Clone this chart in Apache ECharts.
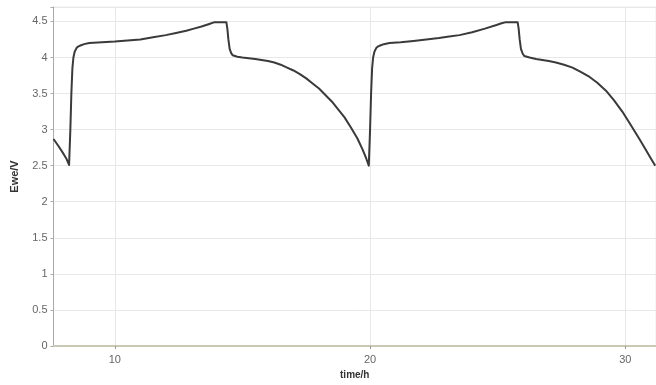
<!DOCTYPE html>
<html>
<head>
<meta charset="utf-8">
<script src="https://cdn.jsdelivr.net/npm/echarts@6/dist/echarts.min.js"></script>
<style>
html,body{margin:0;padding:0;background:#fff;}
#c{width:656px;height:385px;}
</style>
</head>
<body>
<div id="c"></div>
<script>
var timeH = [7.6, 7.8, 8.0, 8.1, 8.21,
  8.26, 8.3, 8.34, 8.38, 8.43, 8.5, 8.58, 8.68, 8.8, 9.0,
  9.5, 10.0, 10.5, 11.0, 11.5, 12.0, 12.4, 12.8, 13.1, 13.4, 13.7, 13.91, 14.37,
  14.41, 14.45, 14.5, 14.56, 14.62, 14.8, 15.0, 15.5, 16.0, 16.25, 16.5, 16.75, 17.0, 17.25, 17.5, 17.75, 18.0, 18.25, 18.5, 18.75, 19.0, 19.25, 19.5, 19.7, 19.85, 19.95,
  20.0, 20.04, 20.08, 20.12, 20.17, 20.24, 20.32, 20.42, 20.54, 20.76,
  21.2, 21.7, 22.2, 22.7, 23.1, 23.5, 24.0, 24.5, 24.95, 25.15, 25.33, 25.78,
  25.82, 25.86, 25.91, 25.97, 26.04, 26.25, 26.5, 27.0, 27.28, 27.6, 27.93, 28.25, 28.6, 28.9, 29.24, 29.55, 29.88, 30.2, 30.55, 30.8, 31.0, 31.17];
var eweV = [2.87, 2.77, 2.66, 2.6, 2.51,
  3.0, 3.5, 3.85, 4.0, 4.08, 4.13, 4.155, 4.17, 4.185, 4.2,
  4.21, 4.22, 4.235, 4.25, 4.28, 4.31, 4.34, 4.37, 4.4, 4.43, 4.465, 4.49, 4.49,
  4.4, 4.25, 4.12, 4.06, 4.03, 4.01, 4.0, 3.98, 3.95, 3.93, 3.9, 3.86, 3.82, 3.77, 3.71, 3.64, 3.57, 3.48, 3.39, 3.28, 3.17, 3.03, 2.88, 2.73, 2.6, 2.5,
  3.0, 3.5, 3.85, 4.0, 4.08, 4.13, 4.155, 4.17, 4.185, 4.2,
  4.21, 4.23, 4.25, 4.27, 4.29, 4.31, 4.35, 4.4, 4.45, 4.475, 4.49, 4.49,
  4.4, 4.25, 4.12, 4.06, 4.02, 4.0, 3.98, 3.95, 3.93, 3.9, 3.86, 3.8, 3.73, 3.65, 3.54, 3.41, 3.25, 3.07, 2.87, 2.72, 2.6, 2.5];
var xTicks = [10, 20, 30];
var yTicks = [0, 0.5, 1, 1.5, 2, 2.5, 3, 3.5, 4, 4.5];

var pts = timeH.map(function(t, i){ return [t, eweV[i]]; });
var chart = echarts.init(document.getElementById('c'), null, {renderer:'canvas'});
chart.setOption({
  animation: false,
  backgroundColor: '#ffffff',
  grid: {left: 53.5, right: 0, top: 7, bottom: 38, show: true, borderColor: '#ececec', borderWidth: 1},
  xAxis: {
    type: 'value', min: 7.6, max: 31.2,
    name: 'time/h', nameLocation: 'middle', nameGap: 24,
    nameTextStyle: {fontFamily: 'Liberation Sans', fontSize: 10, fontWeight: 'bold', color: '#333'},
    axisLine: {show: true, onZero: false, lineStyle: {color: '#c9c9b4', width: 2}},
    axisTick: {show: true, customValues: xTicks, length: 3, lineStyle: {color: '#999'}},
    axisLabel: {customValues: xTicks, fontFamily: 'Liberation Sans', fontSize: 11, color: '#666', margin: 8},
    splitLine: {show: true, lineStyle: {color: '#e8e8e8', width: 1}}
  },
  yAxis: {
    type: 'value', min: 0, max: 4.7, interval: 0.5,
    name: 'Ewe/V', nameLocation: 'middle', nameGap: 33, nameRotate: 90,
    nameTextStyle: {fontFamily: 'Liberation Sans', fontSize: 11, fontWeight: 'bold', color: '#333'},
    axisLine: {show: true, lineStyle: {color: '#aaaaaa', width: 1}},
    axisTick: {show: true, length: 3, lineStyle: {color: '#aaa'}},
    axisLabel: {fontFamily: 'Liberation Sans', fontSize: 11, color: '#666', margin: 6,
      formatter: function(v){ return yTicks.indexOf(v) >= 0 ? String(v) : ''; }},
    splitLine: {show: true, lineStyle: {color: '#e8e8e8', width: 1}}
  },
  series: [{
    type: 'line', data: pts, showSymbol: false, smooth: false,
    lineStyle: {color: '#3a3a3a', width: 2, join: 'round'}
  }]
});
</script>
</body>
</html>
